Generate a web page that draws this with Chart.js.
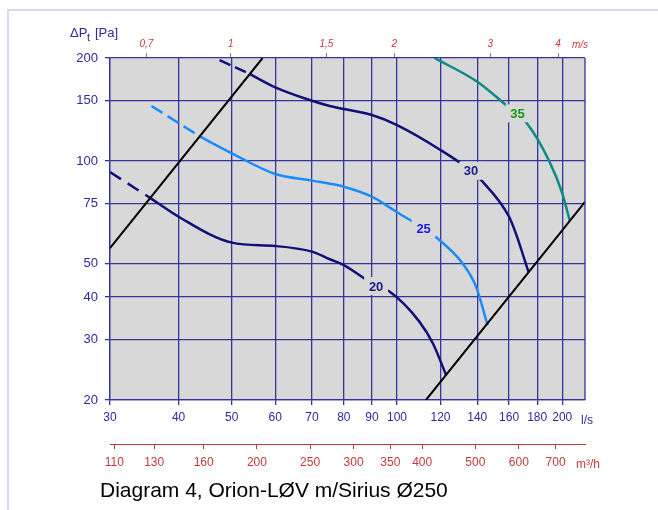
<!DOCTYPE html>
<html><head><meta charset="utf-8">
<script src="https://cdn.jsdelivr.net/npm/chart.js@4/dist/chart.umd.min.js"></script>
<style>html,body{margin:0;padding:0;background:#fff;}canvas{display:block;}</style>
</head><body>
<canvas id="c" width="658" height="510"></canvas>
<script>
// ---- tick labels ----
const flowTicks = [30, 40, 50, 60, 70, 80, 90, 100, 120, 140, 160, 180, 200];   // l/s
const pressureTicks = [20, 30, 40, 50, 75, 100, 150, 200];                     // Pa
const velocityTicks = [0.7, 1, 1.5, 2, 3, 4];                                  // m/s
const m3hTicks = [110, 130, 160, 200, 250, 300, 350, 400, 500, 600, 700];      // m³/h
const flowMin = 30, flowMax = 220, pressureMin = 20, pressureMax = 200;

// ---- fan curves (flow l/s, pressure Pa) ----
const curve20DashFlow = [30, 35.5];
const curve20DashPressure = [92.8, 78];
const curve20Flow = [35.5, 40, 50, 60, 70, 75.4, 80, 91.6, 96.9, 109.8, 116.2, 122.8];
const curve20Pressure = [78, 68.7, 57.7, 56.4, 54.3, 51.6, 49.6, 43.1, 41.5, 33.9, 29.3, 23.7];

const curve25DashFlow = [35.7, 43.7];
const curve25DashPressure = [144.8, 118];
const curve25Flow = [43.7, 50, 60, 70, 80, 90, 100, 111.8, 117.5, 131.6, 139.3, 146.2];
const curve25Pressure = [118, 105.3, 91.6, 87.6, 84.1, 78.6, 70.8, 63.5, 60.0, 50.2, 42.9, 33.1];

const curve30DashFlow = [47.5, 53.9];
const curve30DashPressure = [197.3, 179.6];
const curve30Flow = [53.9, 60, 70, 75.4, 90, 100, 120, 136.4, 142.2, 160, 164.6, 173.6];
const curve30Pressure = [179.6, 164.2, 150, 144.8, 136.2, 127.3, 107.7, 93.6, 88.0, 68.7, 61.4, 47.3];

const curve35Flow = [117, 140, 157.9, 172.1, 189.3, 200, 206.4];
const curve35Pressure = [200, 170.5, 145.8, 129.4, 100, 80.4, 66.9];

// ---- system lines ----
const systemAFlow = [30, 56.9];
const systemAPressure = [55.6, 200];
const systemBFlow = [112.9, 220];
const systemBPressure = [20, 75.9];

// ---- curve labels ----
const curveLabels = ['20', '25', '30', '35'];
const curveLabelFlow = [91.6, 111.8, 136.4, 165.8];
const curveLabelPressure = [43.1, 63.5, 93.6, 137.8];

const ductArea = Math.PI * 0.125 * 0.125 * 1000; // l/s per m/s (Ø250)
const m3hFactor = 3.6;

const BLUE_TXT = '#2b2b9e', RED = '#c03a3a', GRID = '#34349c', BG = '#d8d8d8';
const NAVY = '#10107a', LIGHTBLUE = '#1a8cff', TEAL = '#0a8a86';
const labelColors = ['#1a1a8c', '#1a1aee', '#1a1a8c', '#139a13'];
const FONT = "'Liberation Sans', Arial, sans-serif";

const pts = (q, p) => q.map((v, i) => ({x: v, y: p[i]}));
const line = (q, p, color, w, dash) => ({
  data: pts(q, p), borderColor: color, borderWidth: w, borderDash: dash || [],
  showLine: true, pointRadius: 0, fill: false, cubicInterpolationMode: 'monotone'
});

const setTicks = arr => s => { s.ticks = arr.map(v => ({value: v})); };

const decorPlugin = {
  id: 'decor',
  beforeDraw(chart) {
    const c = chart.ctx, a = chart.chartArea;
    c.save();
    c.fillStyle = '#fff'; c.fillRect(0, 0, chart.width, chart.height);
    c.strokeStyle = '#d8d8f0'; c.lineWidth = 2;
    c.beginPath(); c.moveTo(8, 510); c.lineTo(8, 10); c.lineTo(658, 10); c.stroke();
    c.fillStyle = BG; c.fillRect(a.left, a.top, a.right - a.left, a.bottom - a.top);
    c.restore();
  },
  afterDatasetsDraw(chart) {
    const c = chart.ctx, a = chart.chartArea, xs = chart.scales.x, ys = chart.scales.y;
    c.save();
    c.strokeStyle = GRID; c.lineWidth = 1.3;
    c.beginPath(); c.moveTo(a.right, a.top); c.lineTo(a.right, a.bottom); c.stroke();
    c.font = 'bold 13px ' + FONT; c.textAlign = 'center'; c.textBaseline = 'middle';
    curveLabels.forEach((t, i) => {
      const px = xs.getPixelForValue(curveLabelFlow[i]), py = ys.getPixelForValue(curveLabelPressure[i]);
      c.fillStyle = BG; c.fillRect(px - 12, py - 9, 24, 18);
      c.fillStyle = labelColors[i]; c.fillText(t, px, py + 1);
    });
    c.restore();
  },
  afterDraw(chart) {
    const c = chart.ctx;
    c.save();
    c.textBaseline = 'alphabetic'; c.textAlign = 'left';
    c.fillStyle = BLUE_TXT;
    c.font = '13px ' + FONT;
    c.fillText('\u0394P', 70, 37);
    c.font = '11px ' + FONT; c.fillText('t', 87, 41);
    c.font = '13px ' + FONT; c.fillText('[Pa]', 95, 37);
    c.font = '12px ' + FONT; c.fillText('l/s', 581, 424);
    c.fillStyle = RED;
    c.font = 'italic 10px ' + FONT; c.fillText('m/s', 572, 48);
    c.font = '12px ' + FONT; c.fillText('m\u00B3/h', 576, 468);
    c.fillStyle = '#000';
    c.font = '21px ' + FONT; c.fillText('Diagram 4, Orion-L\u00D8V m/Sirius \u00D8250', 100, 497);
    c.restore();
  }
};

new Chart(document.getElementById('c'), {
  type: 'scatter',
  data: {
    datasets: [
      line(systemAFlow, systemAPressure, '#000', 2),
      line(systemBFlow, systemBPressure, '#000', 2),
      line(curve20DashFlow, curve20DashPressure, NAVY, 2.5, [13, 8]),
      line(curve20Flow, curve20Pressure, NAVY, 2.5),
      line(curve25DashFlow, curve25DashPressure, LIGHTBLUE, 2.5, [13, 6]),
      line(curve25Flow, curve25Pressure, LIGHTBLUE, 2.5),
      line(curve30DashFlow, curve30DashPressure, NAVY, 2.5, [12, 5]),
      line(curve30Flow, curve30Pressure, NAVY, 2.5),
      line(curve35Flow, curve35Pressure, TEAL, 2.5)
    ]
  },
  options: {
    responsive: false, animation: false, devicePixelRatio: 1,
    layout: {padding: {left: 0, right: 73, top: 0, bottom: 0}},
    plugins: {legend: {display: false}, tooltip: {enabled: false}},
    scales: {
      x: {
        type: 'logarithmic', position: 'bottom', min: flowMin, max: flowMax, weight: 0,
        afterBuildTicks: setTicks(flowTicks),
        afterFit: s => { s.height = 44; },
        grid: {color: GRID, lineWidth: 1.3, tickLength: 5},
        border: {color: GRID, width: 1.3},
        ticks: {color: BLUE_TXT, font: {family: FONT, size: 12}, padding: 5, maxRotation: 0, autoSkip: false,
                callback: v => String(v)}
      },
      xm3: {
        type: 'logarithmic', position: 'bottom', min: flowMin * m3hFactor, max: flowMax * m3hFactor, weight: 1,
        afterBuildTicks: setTicks(m3hTicks),
        afterFit: s => { s.height = 66; },
        grid: {drawOnChartArea: false, color: RED, lineWidth: 1, tickLength: 5},
        border: {color: RED, width: 1},
        ticks: {color: RED, font: {family: FONT, size: 12}, padding: 6, maxRotation: 0, autoSkip: false,
                callback: v => String(v)}
      },
      xTop: {
        type: 'logarithmic', position: 'top', min: flowMin / ductArea, max: flowMax / ductArea,
        afterBuildTicks: setTicks(velocityTicks),
        afterFit: s => { s.height = 58; },
        grid: {drawOnChartArea: false, color: '#808080', lineWidth: 1, tickLength: 5},
        border: {display: false},
        ticks: {color: RED, font: {family: FONT, size: 10, style: 'italic'}, padding: 3, maxRotation: 0, autoSkip: false,
                callback: v => String(v).replace('.', ',')}
      },
      y: {
        type: 'logarithmic', position: 'left', min: pressureMin, max: pressureMax,
        afterBuildTicks: setTicks(pressureTicks),
        afterFit: s => { s.width = 110; },
        grid: {color: GRID, lineWidth: 1.3, tickLength: 5},
        border: {color: GRID, width: 1.3},
        ticks: {color: BLUE_TXT, font: {family: FONT, size: 13}, padding: 7, autoSkip: false,
                callback: v => String(v)}
      }
    }
  },
  plugins: [decorPlugin]
});
</script>
</body></html>
